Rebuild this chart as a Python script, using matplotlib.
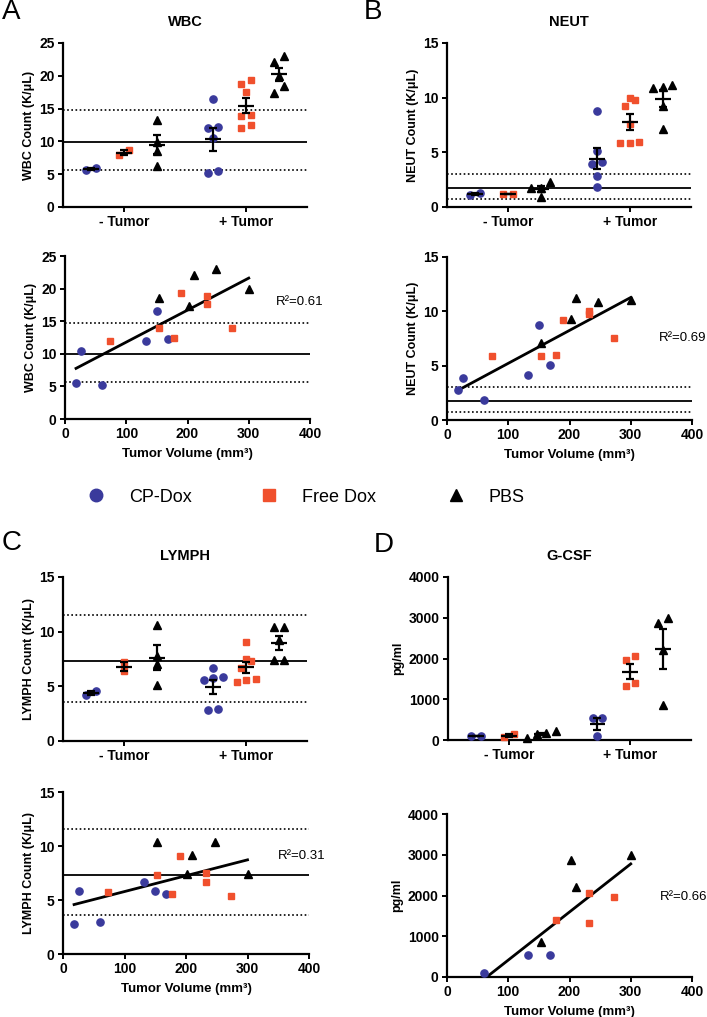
import numpy as np
import matplotlib
matplotlib.use("Agg")
import matplotlib.pyplot as plt
from matplotlib.lines import Line2D

plt.rcParams["font.family"] = ["Liberation Sans", "DejaVu Sans"]

# ---- data -------------------------------------------------------------------
groups = ["CP-Dox", "Free Dox", "PBS"]
tumor_labels = ["- Tumor", "+ Tumor"]

# tumor volumes (mm3) of the +Tumor animals, same order as the +Tumor values
vol_cp = [18, 26, 60, 132, 150, 168]
vol_free = [73, 153, 178, 190, 232, 232, 273]
vol_pbs = [153, 202, 210, 247, 300]

wbc_neg_cp = [5.7, 5.9]
wbc_neg_free = [7.9, 8.7]
wbc_neg_pbs = [13.2, 9.9, 8.6, 6.2]
wbc_pos_cp = [5.5, 10.5, 5.2, 12.0, 16.5, 12.2]
wbc_pos_free = [12.0, 14.0, 12.5, 19.3, 18.8, 17.6, 13.9]
wbc_pos_pbs = [18.5, 17.4, 22.1, 23.0, 20.0]
wbc_ref = [9.9, 14.8, 5.7]  # mean, upper, lower of normal range

neut_neg_cp = [1.1, 1.25]
neut_neg_free = [1.2, 1.2]
neut_neg_pbs = [2.25, 1.7, 1.75, 0.9]
neut_pos_cp = [2.8, 3.9, 1.85, 4.1, 8.75, 5.1]
neut_pos_free = [5.85, 5.85, 5.95, 9.2, 9.8, 10.0, 7.55]
neut_pos_pbs = [7.1, 9.25, 11.2, 10.9, 11.0]
neut_ref = [1.75, 3.0, 0.75]

lymph_neg_cp = [4.2, 4.55]
lymph_neg_free = [6.4, 7.2]
lymph_neg_pbs = [10.6, 7.8, 7.0, 5.1]
lymph_pos_cp = [2.8, 5.8, 2.95, 6.65, 5.85, 5.55]
lymph_pos_free = [5.7, 7.3, 5.55, 9.05, 7.5, 6.65, 5.4]
lymph_pos_pbs = [10.4, 7.45, 9.2, 10.4, 7.45]
lymph_ref = [7.3, 11.55, 3.6]

gcsf_vol_cp = [60, 132, 168]
gcsf_vol_free = [178, 232, 232, 273]
gcsf_vol_pbs = [153, 202, 210, 300]
gcsf_neg_cp = [100, 100]
gcsf_neg_free = [70, 140]
gcsf_neg_pbs = [60, 150, 170, 210]
gcsf_pos_cp = [100, 540, 540]
gcsf_pos_free = [1390, 2050, 1320, 1960]
gcsf_pos_pbs = [850, 2870, 2220, 3000]

r2_text = ["R²=0.61", "R²=0.69", "R²=0.31", "R²=0.66"]

# ---- styling ------------------------------------------------------------------
BLUE = "#3a3a9c"
RED = "#f0502d"
BLACK = "#000000"
styles = [(BLUE, "o", 5.2), (RED, "s", 5.0), (BLACK, "^", 5.2)]

W, H = 707, 1017
fig = plt.figure(figsize=(W / 100, H / 100), dpi=100)


def add_ax(l, r, t, b):
    return fig.add_axes([l / W, 1 - b / H, (r - l) / W, (b - t) / H])


def style_ax(ax):
    for s in ["top", "right"]:
        ax.spines[s].set_visible(False)
    for s in ["left", "bottom"]:
        ax.spines[s].set_linewidth(1.6)
    ax.tick_params(width=1.4, length=3.5, labelsize=10, pad=2.5)
    for lab in ax.get_xticklabels() + ax.get_yticklabels():
        lab.set_fontweight("bold")


def swarm(vals, center, px_x, px_y, step=9.5, row_px=7.5):
    # points closer than row_px (in pixels) share a row and are spread sideways
    vals = np.asarray(vals, float)
    order = np.argsort(vals)
    rows = []
    for i in order:
        if rows and (vals[i] - vals[rows[-1][0]]) * px_y < row_px:
            rows[-1].append(i)
        else:
            rows.append([i])
    xs = np.zeros(len(vals))
    for r in rows:
        n = len(r)
        for k, i in enumerate(r):
            xs[i] = center + (k - (n - 1) / 2) * step / px_x
    return xs


def draw_ref(ax, ref):
    ax.axhline(ref[0], color="k", lw=1.3, zorder=1)
    ax.axhline(ref[1], color="k", lw=1.2, ls=(0, (1, 1.5)), zorder=1)
    ax.axhline(ref[2], color="k", lw=1.2, ls=(0, (1, 1.5)), zorder=1)


def cat_panel(ax, neg, pos, ylim, yticks, ylabel, title, ref=None):
    ax.set_xlim(0, 2)
    ax.set_ylim(*ylim)
    bb = ax.get_position()
    px_x = bb.width * W / 2
    px_y = bb.height * H / (ylim[1] - ylim[0])
    offsets = [-0.27, 0.0, 0.27]
    if ref is not None:
        draw_ref(ax, ref)
    for c, sets in zip([0.5, 1.5], [neg, pos]):
        for vals, off, (col, mk, ms) in zip(sets, offsets, styles):
            xs = swarm(vals, c + off, px_x, px_y)
            ax.plot(xs, vals, ls="none", marker=mk, color=col, ms=ms,
                    mec=col, zorder=3, clip_on=False)
            m = np.mean(vals)
            sem = np.std(vals, ddof=1) / np.sqrt(len(vals))
            ax.hlines(m, c + off - 0.065, c + off + 0.065, color="k", lw=1.6, zorder=4)
            ax.errorbar(c + off, m, yerr=sem, fmt="none", ecolor="k",
                        elinewidth=1.6, capsize=3, capthick=1.6, zorder=4)
    ax.set_xticks([0.5, 1.5])
    ax.set_xticklabels(tumor_labels)
    ax.set_yticks(yticks)
    ax.set_ylabel(ylabel, fontsize=9, fontweight="bold", labelpad=3)
    ax.set_title(title, fontsize=10.5, fontweight="bold", pad=12)
    style_ax(ax)


def vol_panel(ax, vols, sets, ylim, yticks, ylabel, r2, r2_pos, ref=None):
    ax.set_xlim(0, 400)
    ax.set_ylim(*ylim)
    if ref is not None:
        draw_ref(ax, ref)
    for v, vals, (col, mk, ms) in zip(vols, sets, styles):
        ax.plot(v, vals, ls="none", marker=mk, color=col, ms=ms, mec=col,
                zorder=3, clip_on=False)
    x_all = np.concatenate([np.asarray(v, float) for v in vols])
    y_all = np.concatenate([np.asarray(s, float) for s in sets])
    k, b = np.polyfit(x_all, y_all, 1)
    xl = np.array([x_all.min(), x_all.max()])
    ax.plot(xl, k * xl + b, color="k", lw=2.0, zorder=2)
    ax.text(r2_pos[0], r2_pos[1], r2, fontsize=9.5, ha="left", va="center",
            clip_on=False)
    ax.set_xticks([0, 100, 200, 300, 400])
    ax.set_yticks(yticks)
    ax.set_ylabel(ylabel, fontsize=9, fontweight="bold", labelpad=3)
    ax.set_xlabel("Tumor Volume (mm³)", fontsize=9.5, fontweight="bold", labelpad=5)
    style_ax(ax)


# ---- panels -------------------------------------------------------------------
axA1 = add_ax(63, 307, 43, 207)
cat_panel(axA1, [wbc_neg_cp, wbc_neg_free, wbc_neg_pbs],
          [wbc_pos_cp, wbc_pos_free, wbc_pos_pbs], (0, 25), range(0, 26, 5),
          "WBC Count (K/μL)", "WBC", wbc_ref)
axA2 = add_ax(65, 310, 256, 419)
vol_panel(axA2, [vol_cp, vol_free, vol_pbs], [wbc_pos_cp, wbc_pos_free, wbc_pos_pbs],
          (0, 25), range(0, 26, 5), "WBC Count (K/μL)", r2_text[0], (345, 17.9), wbc_ref)

axB1 = add_ax(447, 691, 43, 207)
cat_panel(axB1, [neut_neg_cp, neut_neg_free, neut_neg_pbs],
          [neut_pos_cp, neut_pos_free, neut_pos_pbs], (0, 15), range(0, 16, 5),
          "NEUT Count (K/μL)", "NEUT", neut_ref)
axB2 = add_ax(447, 692, 257, 420)
vol_panel(axB2, [vol_cp, vol_free, vol_pbs], [neut_pos_cp, neut_pos_free, neut_pos_pbs],
          (0, 15), range(0, 16, 5), "NEUT Count (K/μL)", r2_text[1], (346, 7.55), neut_ref)

axC1 = add_ax(63, 307, 577, 741)
cat_panel(axC1, [lymph_neg_cp, lymph_neg_free, lymph_neg_pbs],
          [lymph_pos_cp, lymph_pos_free, lymph_pos_pbs], (0, 15), range(0, 16, 5),
          "LYMPH Count (K/μL)", "LYMPH", lymph_ref)
axC2 = add_ax(63, 309, 792, 954)
vol_panel(axC2, [vol_cp, vol_free, vol_pbs], [lymph_pos_cp, lymph_pos_free, lymph_pos_pbs],
          (0, 15), range(0, 16, 5), "LYMPH Count (K/μL)", r2_text[2], (350, 9.1), lymph_ref)

axD1 = add_ax(448, 691, 577, 740)
cat_panel(axD1, [gcsf_neg_cp, gcsf_neg_free, gcsf_neg_pbs],
          [gcsf_pos_cp, gcsf_pos_free, gcsf_pos_pbs], (0, 4000), range(0, 4001, 1000),
          "pg/ml", "G-CSF")
axD2 = add_ax(447, 692, 814, 977)
vol_panel(axD2, [gcsf_vol_cp, gcsf_vol_free, gcsf_vol_pbs],
          [gcsf_pos_cp, gcsf_pos_free, gcsf_pos_pbs], (0, 4000), range(0, 4001, 1000),
          "pg/ml", r2_text[3], (348, 1960))

# panel letters
for letter, x, y in [("A", 2, 12), ("B", 364, 12), ("C", 2, 543), ("D", 374, 545)]:
    fig.text(x / W, 1 - y / H, letter, fontsize=20, ha="left", va="center")

# legend
for (col, mk, ms), name, x in zip(styles, groups, [80, 253, 440]):
    h = Line2D([], [], ls="none", marker=mk, color=col, mec=col, ms=9)
    fig.legend(handles=[h], labels=[name], loc="center left",
               bbox_to_anchor=(x / W, 1 - 497 / H), frameon=False, fontsize=13,
               handlelength=1.0, handletextpad=1.3, borderaxespad=0)

fig.savefig("out.png", dpi=100)
